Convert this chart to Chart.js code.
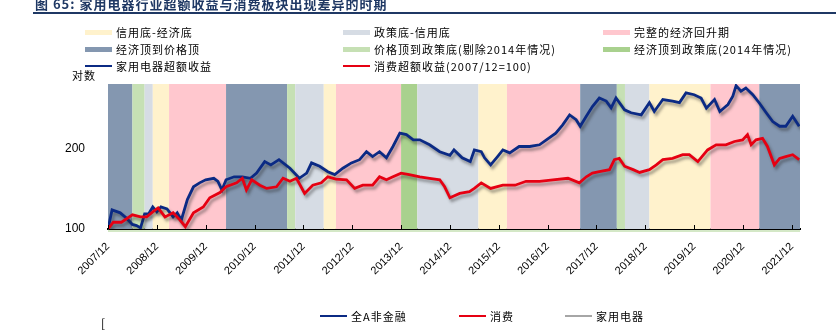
<!DOCTYPE html>
<html>
<head>
<meta charset="utf-8">
<script src="https://cdn.jsdelivr.net/npm/chart.js@4.4.1/dist/chart.umd.min.js"></script>
<style>
  body { margin: 0; background: #fff; width: 836px; height: 334px; overflow: hidden; position: relative;
         font-family: "Noto Sans CJK SC", "Noto Sans", sans-serif; }
  #chart { position: absolute; left: 0; top: 0; }
  .title { position: absolute; left: 35px; top: -6px; font-size: 13px; font-weight: bold; color: #1F3864; letter-spacing: 1px; white-space: nowrap; }
  .rule { position: absolute; left: 33px; right: 0; top: 12px; height: 2px; background: #1F3864; }
  .item { position: absolute; font-size: 11px; letter-spacing: 1px; color: #000; white-space: nowrap; line-height: 14px; }
  .sw { position: absolute; width: 27px; }
  .unit { position: absolute; left: 72px; top: 67px; font-size: 11px; letter-spacing: 1px; }
</style>
</head>
<body>
<canvas id="chart" width="836" height="334"></canvas>
<div class="title">图 65: 家用电器行业超额收益与消费板块出现差异的时期</div>
<div class="rule"></div>
<div class="unit">对数</div>
<div id="legendTop"></div>
<div id="legendBottom"></div>
<script>
  // months counted from 2007/12
  var tickMonths = [0, 12, 24, 36, 48, 60, 72, 84, 96, 108, 120, 132, 144, 156, 168];
  var tickLabels = ['2007/12', '2008/12', '2009/12', '2010/12', '2011/12', '2012/12', '2013/12', '2014/12',
                    '2015/12', '2016/12', '2017/12', '2018/12', '2019/12', '2020/12', '2021/12'];
  var yTicks = [100, 200];

  // shaded periods
  var bandStarts = [0, 6, 9, 11, 15, 29, 44, 46, 53, 56, 72, 76, 91, 98, 116, 125, 127, 133, 148, 160];
  var bandEnds   = [6, 9, 11, 15, 29, 44, 46, 53, 56, 72, 76, 91, 98, 116, 125, 127, 133, 148, 160, 170];
  var bandTypes  = [3, 4, 1, 0, 2, 3, 4, 1, 0, 2, 5, 1, 0, 2, 3, 4, 1, 0, 2, 3];
  var bandNames  = ['信用底-经济底', '政策底-信用底', '完整的经济回升期', '经济顶到价格顶',
                    '价格顶到政策底(剔除2014年情况)', '经济顶到政策底(2014年情况)'];

  // 家用电器超额收益
  var applianceMonths = [0, 1, 3, 4.5, 6, 7, 8, 9, 10, 11, 12, 13, 14.5, 16, 17, 18, 19.5, 21, 22.5, 24, 26, 27, 28, 29,
    31, 33, 35, 36.5, 38.5, 40, 42, 44.7, 47, 48.8, 50, 52, 54, 55.7, 57.7, 59.8, 61.8, 63.5, 65, 66.7, 68.4, 70,
    71.7, 73.3, 75, 76.6, 79, 81.5, 84, 85, 87, 89, 90, 91.7, 92.5, 94, 95.7, 97, 98.7, 101, 103.6, 106, 107.7,
    110, 111.7, 113.4, 115, 116, 117.5, 119, 120.7, 122.4, 123.6, 124.8, 126.9, 128.5, 131, 133, 134.2, 136.3,
    138.7, 140.4, 142, 144, 145.7, 147, 149, 150.3, 152.3, 153.5, 154.3, 155.5, 156.7, 158.4, 160, 161.7, 163.3,
    165, 166.5, 168.2, 169.8];
  var applianceValues = [100, 118, 115, 110, 104, 103, 101, 114, 114, 121, 116, 121, 119, 111, 115, 108, 129, 144, 149,
    153, 155, 151, 140, 153, 157, 157, 155, 162, 179, 174, 182, 169, 155, 162, 177, 172, 164, 160, 169, 177, 182,
    195, 187, 195, 185, 204, 229, 226, 216, 216, 207, 195, 189, 198, 185, 179, 198, 195, 185, 174, 187, 198, 193,
    204, 204, 207, 216, 229, 246, 268, 257, 243, 265, 288, 310, 302, 285, 310, 280, 273, 268, 298, 276, 306, 302,
    298, 324, 319, 310, 284, 306, 276, 293, 315, 345, 329, 338, 319, 297, 273, 253, 243, 243, 265, 243];

  // 消费超额收益(2007/12=100)
  var consumerMonths = [0, 1.3, 3.3, 6, 8, 9.5, 11, 12.3, 14, 16, 17.7, 19, 21, 23.4, 25, 27.5, 29, 31.6, 33, 34, 35.3,
    37.3, 39, 41.4, 43, 44.7, 46.3, 48.3, 50.3, 52.4, 54, 56, 58.6, 60.6, 62.6, 65, 66.7, 68.4, 70, 72, 74, 76.6,
    79, 81.5, 82.7, 84, 86.4, 88.8, 90, 91.7, 94, 97, 100, 102.7, 106, 109.3, 113, 115.8, 117.5, 119, 120.7, 123.2,
    124.4, 125.6, 126.9, 129, 130.6, 133, 134.7, 136.3, 138.7, 141.2, 142.8, 144.9, 147.3, 149.4, 151.8, 153.9,
    155.9, 157.1, 158, 159.2, 160.8, 162, 163.7, 165, 166.5, 168.2, 169.8];
  var consumerValues = [100, 106, 106, 113, 111, 111, 116, 120, 111, 115, 108, 102, 115, 121, 131, 137, 144, 149, 155,
    140, 153, 146, 142, 144, 155, 151, 155, 136, 146, 149, 157, 154, 153, 142, 146, 146, 157, 153, 157, 162, 160,
    157, 155, 153, 144, 131, 136, 138, 142, 149, 142, 146, 146, 151, 151, 153, 155, 149, 157, 162, 164, 167, 182,
    184, 172, 167, 163, 167, 174, 182, 184, 190, 190, 179, 198, 207, 207, 213, 216, 226, 207, 216, 219, 204, 174,
    184, 187, 190, 182];

  var bandColors = ['#FFF2CC', '#D6DCE4', '#FFC7CE', '#8497B0', '#C6E0B4', '#A9D18E'];
  var navy = '#0B2A84';
  var red = '#E60012';

  function toPoints(xs, ys) {
    return xs.map(function(x, i) { return { x: x, y: ys[i] }; });
  }

  // background periods drawn through the x scale
  var bandPlugin = {
    id: 'bands',
    beforeDatasetsDraw: function(chart) {
      var ctx = chart.ctx, area = chart.chartArea, xs = chart.scales.x;
      ctx.save();
      for (var i = 0; i < bandStarts.length; i++) {
        var x1 = xs.getPixelForValue(bandStarts[i]);
        var x2 = xs.getPixelForValue(bandEnds[i]);
        ctx.fillStyle = bandColors[bandTypes[i]];
        ctx.fillRect(x1, area.top, x2 - x1, area.bottom - area.top);
      }
      ctx.restore();
    },
    beforeDatasetDraw: function(chart) {
      var ctx = chart.ctx;
      ctx.save();
      ctx.shadowColor = 'rgba(40,40,40,0.45)';
      ctx.shadowBlur = 3;
      ctx.shadowOffsetX = 2;
      ctx.shadowOffsetY = 3;
    },
    afterDatasetDraw: function(chart) {
      chart.ctx.restore();
    },
    afterDraw: function(chart) {
      // small inward ticks on the x axis
      var ctx = chart.ctx, area = chart.chartArea, xs = chart.scales.x;
      ctx.save();
      ctx.strokeStyle = '#000';
      ctx.lineWidth = 1;
      tickMonths.forEach(function(m) {
        var px = Math.round(xs.getPixelForValue(m)) + 0.5;
        ctx.beginPath();
        ctx.moveTo(px, area.bottom);
        ctx.lineTo(px, area.bottom - 4);
        ctx.stroke();
      });
      ctx.strokeStyle = '#A9D18E';
      ctx.beginPath();
      ctx.moveTo(area.left, area.bottom + 2);
      ctx.lineTo(area.right, area.bottom + 2);
      ctx.stroke();
      ctx.restore();
    }
  };

  new Chart(document.getElementById('chart').getContext('2d'), {
    type: 'line',
    data: {
      datasets: [
        { label: '消费超额收益(2007/12=100)', data: toPoints(consumerMonths, consumerValues), borderColor: red,
          borderWidth: 2.8, pointRadius: 0, tension: 0 },
        { label: '家用电器超额收益', data: toPoints(applianceMonths, applianceValues), borderColor: navy,
          borderWidth: 2.8, pointRadius: 0, tension: 0 }
      ]
    },
    options: {
      responsive: false,
      animation: false,
      layout: { padding: { top: 84, right: 36, left: 0, bottom: 0 } },
      plugins: { legend: { display: false }, tooltip: { enabled: false } },
      scales: {
        x: {
          type: 'linear', min: 0, max: 170,
          afterBuildTicks: function(s) { s.ticks = tickMonths.map(function(v) { return { value: v }; }); },
          afterFit: function(s) { s.height = 105; },
          ticks: {
            autoSkip: false, maxRotation: 45, minRotation: 45, padding: 3, color: '#000',
            font: { family: 'Arial', size: 11 },
            callback: function(v) { return tickLabels[tickMonths.indexOf(v)]; }
          },
          grid: { display: false },
          border: { color: '#000', width: 2 }
        },
        y: {
          type: 'logarithmic', min: 100, max: 350,
          afterBuildTicks: function(s) { s.ticks = yTicks.map(function(v) { return { value: v }; }); },
          afterFit: function(s) { s.width = 108; },
          ticks: { padding: 15, color: '#000', font: { family: 'Arial', size: 12 },
                   callback: function(v) { return v; } },
          grid: { display: false },
          border: { color: '#333', width: 1 }
        }
      }
    },
    plugins: [bandPlugin]
  });

  // legend above the plot: three columns
  var topItems = [
    { text: bandNames[0], color: bandColors[0], kind: 'band', x: 85, y: 25 },
    { text: bandNames[1], color: bandColors[1], kind: 'band', x: 343, y: 25 },
    { text: bandNames[2], color: bandColors[2], kind: 'band', x: 603, y: 25 },
    { text: bandNames[3], color: bandColors[3], kind: 'band', x: 85, y: 42 },
    { text: bandNames[4], color: bandColors[4], kind: 'band', x: 343, y: 42 },
    { text: bandNames[5], color: bandColors[5], kind: 'band', x: 603, y: 42 },
    { text: '家用电器超额收益', color: navy, kind: 'line', x: 85, y: 59 },
    { text: '消费超额收益(2007/12=100)', color: red, kind: 'line', x: 343, y: 59 }
  ];
  // legend cut off at the bottom (next figure)
  var bottomItems = [
    { text: '全A非金融', color: navy, kind: 'line', x: 320, y: 309 },
    { text: '消费', color: red, kind: 'line', x: 459, y: 309 },
    { text: '家用电器', color: '#A6A6A6', kind: 'line', x: 565, y: 309 }
  ];

  function addItems(holder, items) {
    var el = document.getElementById(holder);
    items.forEach(function(it) {
      var sw = document.createElement('div');
      sw.className = 'sw';
      sw.style.left = it.x + 'px';
      sw.style.background = it.color;
      if (it.kind === 'band') {
        sw.style.top = (it.y + 5) + 'px';
        sw.style.height = '5px';
      } else {
        sw.style.top = (it.y + 6) + 'px';
        sw.style.height = '2px';
      }
      el.appendChild(sw);
      var t = document.createElement('div');
      t.className = 'item';
      t.style.left = (it.x + 31) + 'px';
      t.style.top = it.y + 'px';
      t.textContent = it.text;
      el.appendChild(t);
    });
  }
  addItems('legendTop', topItems);
  addItems('legendBottom', bottomItems);
</script>
<div class="item" style="left:101px; top:316px; font-size:12px;">[</div>
</body>
</html>
